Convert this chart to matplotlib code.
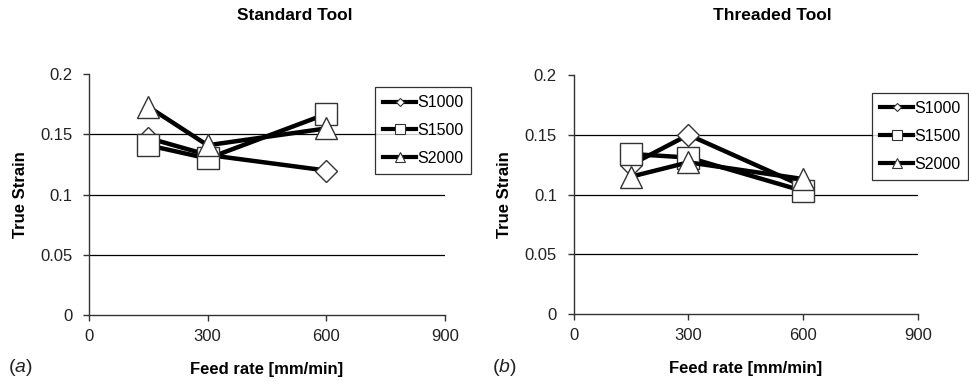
import matplotlib
matplotlib.use("Agg")
import matplotlib.pyplot as plt
from matplotlib.lines import Line2D

plt.rcParams['font.family'] = ['Liberation Sans', 'DejaVu Sans']
plt.rcParams['mathtext.fontset'] = 'custom'
plt.rcParams['mathtext.it'] = 'Liberation Sans:italic'
plt.rcParams['mathtext.rm'] = 'Liberation Sans'

# feed rates [mm/min]
feed = [150, 300, 600]
series = ["S1000", "S1500", "S2000"]
markers = ["D", "s", "^"]

# (a) standard tool
std_s1000 = [0.147, 0.133, 0.120]
std_s1500 = [0.141, 0.130, 0.167]
std_s2000 = [0.173, 0.141, 0.155]

# (b) threaded tool
thr_s1000 = [0.125, 0.150, 0.107]
thr_s1500 = [0.134, 0.131, 0.103]
thr_s2000 = [0.115, 0.127, 0.113]

yticks = [0, 0.05, 0.1, 0.15, 0.2]
ytick_labels = ["0", "0.05", "0.1", "0.15", "0.2"]
xticks = [0, 300, 600, 900]

fig = plt.figure(figsize=(9.69, 3.84), dpi=100)
ax_a = fig.add_axes([0.0918, 0.1797, 0.3674, 0.627])
ax_b = fig.add_axes([0.592, 0.1823, 0.3553, 0.622])

msize = {"D": 11.5, "s": 15.5, "^": 16}
leg_msize = {"D": 4.5, "s": 7, "^": 7}


def draw(ax, data, title, title_x, tag, tag_x, leg_pos):
    for i in (0.05, 0.1, 0.15):
        ax.axhline(i, color="black", lw=0.9, zorder=1)
    for vals, m in zip(data, markers):
        ax.plot(feed, vals, color="black", lw=3.2, marker=m, ms=msize[m],
                mfc="white", mec="#333333", mew=1.0, zorder=3)
    ax.set_xlim(0, 900)
    ax.set_ylim(0, 0.2)
    ax.set_xticks(xticks)
    ax.set_yticks(yticks)
    ax.set_yticklabels(ytick_labels)
    ax.spines["top"].set_visible(False)
    ax.spines["right"].set_visible(False)
    for s in ("left", "bottom"):
        ax.spines[s].set_color("#333333")
        ax.spines[s].set_linewidth(1.0)
    ax.tick_params(direction="out", length=4, width=1, colors="#333333",
                   labelcolor="#222222", labelsize=12)
    ax.tick_params(axis="x", pad=6)
    ax.tick_params(axis="y", pad=8)
    ax.set_ylabel("True Strain", fontsize=12, fontweight="bold", labelpad=9)
    ax.set_xlabel("Feed rate [mm/min]", fontsize=12, fontweight="bold", labelpad=13)
    fig.text(title_x, 1 - 15 / 384, title, fontsize=12.5, fontweight="bold",
             ha="center", va="center")
    fig.text(tag_x, 1 - 367 / 384, "($\\it{" + tag + "}$)", fontsize=14,
             va="center", color="#222222")
    handles = [Line2D([0], [0], color="black", lw=3, marker=m, ms=leg_msize[m],
                      mfc="white", mec="#333333", mew=0.8) for m in markers]
    leg = ax.legend(handles, series, loc="upper left", bbox_to_anchor=leg_pos,
                    frameon=True, fancybox=False, edgecolor="black", fontsize=11.5,
                    handlelength=2.1, handletextpad=0.05, labelspacing=0.8,
                    borderpad=0.5, borderaxespad=0)
    leg.get_frame().set_linewidth(0.9)


draw(ax_a, [std_s1000, std_s1500, std_s2000], "Standard Tool", 294.5 / 969, "a",
     8 / 969, (0.803, 0.946))
draw(ax_b, [thr_s1000, thr_s1500, thr_s2000], "Threaded Tool", 772 / 969, "b",
     492 / 969, (0.866, 0.925))

fig.savefig("out.png", dpi=100)
